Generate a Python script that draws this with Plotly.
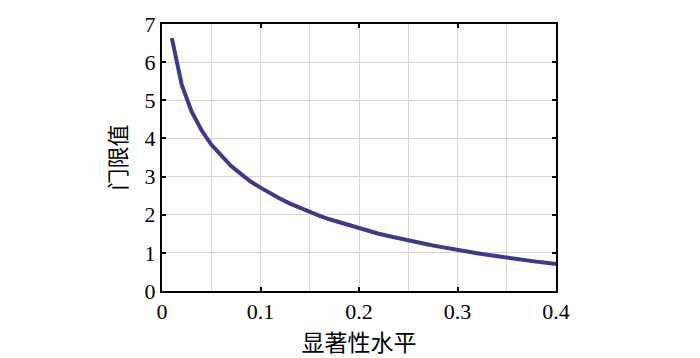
import plotly.graph_objects as go

alpha = [0.01, 0.02, 0.03, 0.04, 0.05, 0.06, 0.07, 0.08, 0.09, 0.10,
         0.11, 0.12, 0.13, 0.14, 0.15, 0.16, 0.17, 0.18, 0.19, 0.20,
         0.21, 0.22, 0.23, 0.24, 0.25, 0.26, 0.27, 0.28, 0.29, 0.30,
         0.31, 0.32, 0.33, 0.34, 0.35, 0.36, 0.37, 0.38, 0.39, 0.40]
threshold = [6.63, 5.41, 4.71, 4.22, 3.84, 3.54, 3.28, 3.07, 2.87, 2.71,
             2.55, 2.42, 2.29, 2.18, 2.07, 1.97, 1.88, 1.80, 1.72, 1.64,
             1.57, 1.50, 1.44, 1.38, 1.32, 1.27, 1.22, 1.17, 1.12, 1.07,
             1.03, 0.99, 0.95, 0.91, 0.87, 0.84, 0.80, 0.77, 0.74, 0.71]
x_ticks = [0, 0.1, 0.2, 0.3, 0.4]
x_tick_text = ["0", "0.1", "0.2", "0.3", "0.4"]
y_ticks = [0, 1, 2, 3, 4, 5, 6, 7]

fig = go.Figure()
fig.add_trace(go.Scatter(x=alpha, y=threshold, mode="lines",
                         line=dict(color="#3d3a8c", width=4), showlegend=False))

serif = "Liberation Serif, Times New Roman, serif"
fig.update_layout(
    width=700, height=358,
    margin=dict(l=162, r=144, t=12, b=66),
    plot_bgcolor="white", paper_bgcolor="white",
    font=dict(family=serif, size=22, color="black"),
)
fig.update_xaxes(
    range=[0, 0.4], tickvals=x_ticks, ticktext=x_tick_text,
    ticks="inside", ticklen=4, tickwidth=1.5, tickcolor="black",
    showline=True, linecolor="black", linewidth=2, mirror="ticks",
    showgrid=True, gridcolor="#d9d4d4", gridwidth=1,
    minor=dict(dtick=0.05, showgrid=True, gridcolor="#d9d4d4", gridwidth=1),
    zeroline=False,
    title=dict(text="显著性水平", font=dict(family="Noto Sans CJK SC", size=23), standoff=5),
)
fig.update_yaxes(
    range=[0, 7], tickvals=y_ticks,
    ticks="inside", ticklen=4, tickwidth=1.5, tickcolor="black",
    showline=True, linecolor="black", linewidth=2, mirror="ticks",
    showgrid=True, gridcolor="#d9d4d4", gridwidth=1,
    zeroline=False,
    title=dict(text="门限值", font=dict(family="Noto Sans CJK SC", size=22), standoff=12),
)
fig.write_html("out.html")
